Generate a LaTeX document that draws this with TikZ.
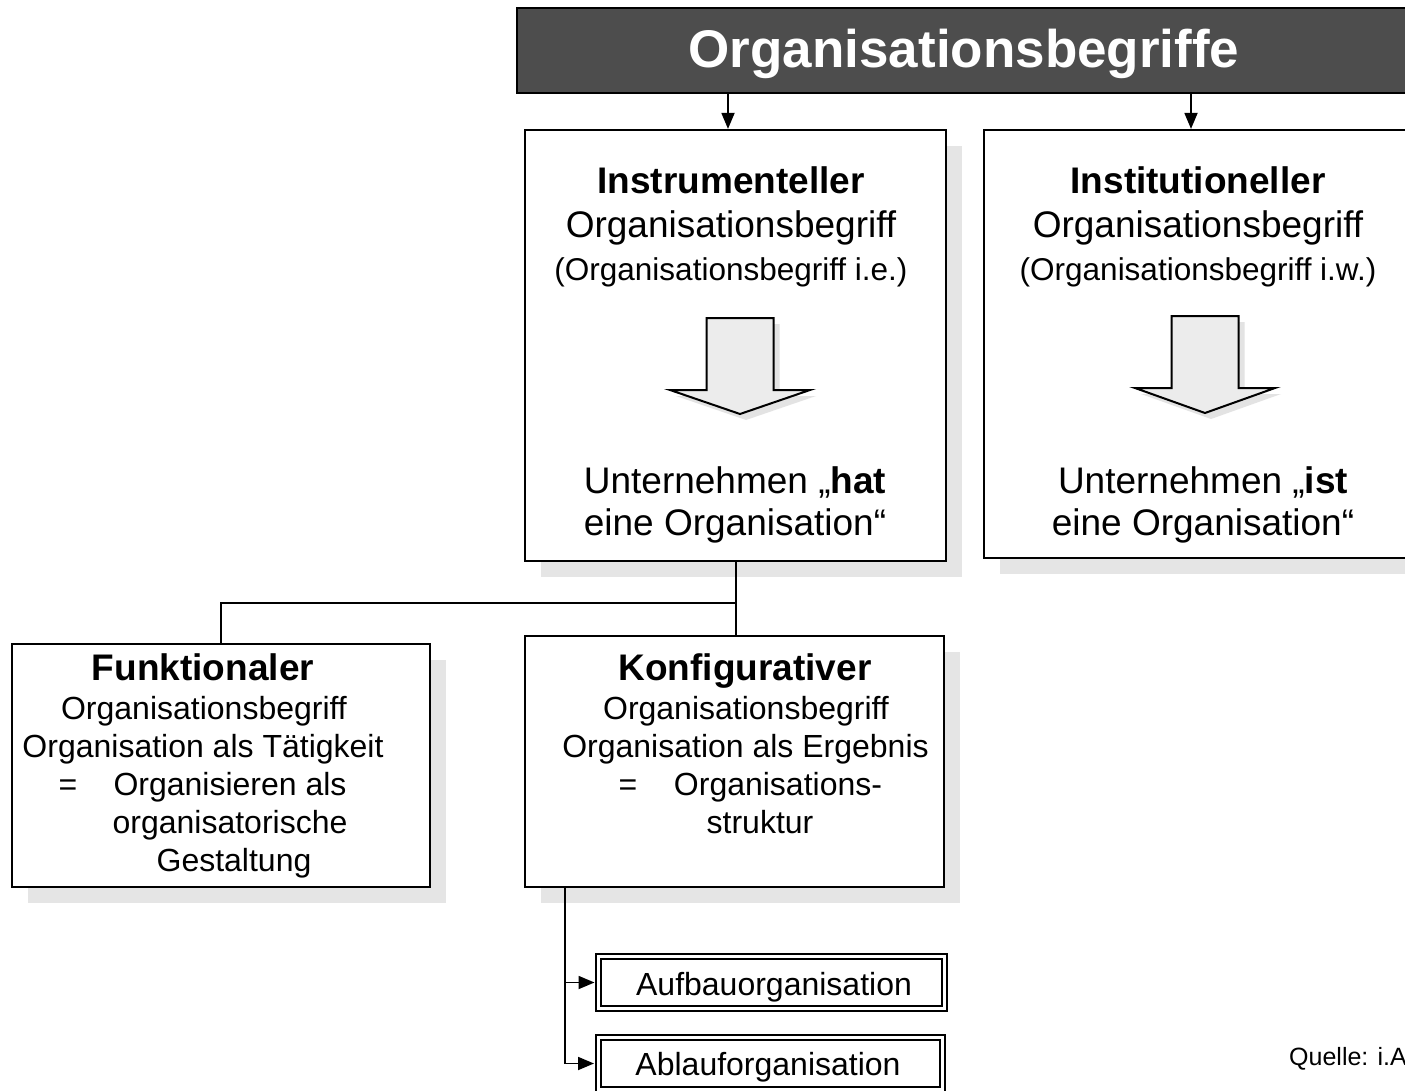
\documentclass[tikz,border=0pt]{standalone}
\usepackage{fontspec}
\setmainfont{Liberation Sans}
\usepackage{tikz}
\usetikzlibrary{arrows.meta,shadows}

\definecolor{barfill}{HTML}{4D4D4D}

\tikzset{
  bar/.style={draw, line width=2pt, fill=barfill, inner sep=0pt},
  box/.style={draw, line width=2.2pt, fill=white, inner sep=0pt,
    drop shadow={shadow xshift=16pt, shadow yshift=-16pt, fill=gray!20, opacity=1}},
  dbox/.style={draw, double, double distance=3pt, line width=2pt, fill=white, inner sep=0pt},
  hollow/.style={draw, line width=2pt, fill=gray!15, line join=miter,
    drop shadow={shadow xshift=6pt, shadow yshift=-6pt, fill=gray!22, opacity=1}},
  txt/.style={inner sep=0pt, anchor=base},
  big/.style={font=\fontsize{37}{44}\selectfont},
  mid/.style={font=\fontsize{31.5}{38}\selectfont},
  small/.style={font=\fontsize{32}{38}\selectfont},
}

\begin{document}
\begin{tikzpicture}[x=1pt,y=-1pt,>={Triangle[length=16pt,width=13pt]}]
    \path[use as bounding box, clip] (0,0) rectangle (1405,1091);

    % title
    \node[bar, minimum width=894pt, minimum height=85pt] (T) at (964,50.5) {};
    \node[txt, text=white, font=\fontsize{53}{60}\selectfont\bfseries] (Tt) at (964,68) {Organisationsbegriffe};

    % instrumenteller
    \node[box, minimum width=421pt, minimum height=431pt] (IB) at (735.5,345.5) {};
    \node[txt, big] (IB1) at (731,194) {\textbf{Instrumenteller}};
    \node[txt, big] (IB2) at (731,238) {Organisationsbegriff};
    \node[txt, mid] (IB3) at (731,280) {(Organisationsbegriff i.e.)};
    \node[txt, big] (IB4) at (735,493) {Unternehmen „\textbf{hat}};
    \node[txt, big] (IB5) at (735,535) {eine Organisation“};

    % institutioneller
    \node[box, minimum width=442pt, minimum height=428pt] (SB) at (1205,344) {};
    \node[txt, big] (SB1) at (1198,194) {\textbf{Institutioneller}};
    \node[txt, big] (SB2) at (1198,238) {Organisationsbegriff};
    \node[txt, mid] (SB3) at (1198,280) {(Organisationsbegriff i.w.)};
    \node[txt, big] (SB4) at (1203,493) {Unternehmen „\textbf{ist}};
    \node[txt, big] (SB5) at (1203,535) {eine Organisation“};

    % hollow arrows
    \foreach \cx/\ty/\tp in {740/318/414, 1205/316/413}
      \draw[hollow] (\cx-33.5,\ty) -- (\cx+33.5,\ty) -- (\cx+33.5,\ty+72) -- (\cx+70,\ty+72)
        -- (\cx,\tp) -- (\cx-70,\ty+72) -- (\cx-33.5,\ty+72) -- cycle;

    % funktionaler
    \node[box, minimum width=418pt, minimum height=243pt] (FB) at (221,765.5) {};
    \node[txt, big] (FB1) at (203,680) {\textbf{Funktionaler}};
    \node[txt, small] (FB2) at (204,719) {Organisationsbegriff};
    \node[txt, small] (FB3) at (203,757) {Organisation als Tätigkeit};
    \node[txt, small] (FB4) at (68,795) {=};
    \node[txt, small] (FB5) at (230,795) {Organisieren als};
    \node[txt, small] (FB6) at (230,833) {organisatorische};
    \node[txt, small] (FB7) at (234,871) {Gestaltung};

    % konfigurativer
    \node[box, minimum width=419pt, minimum height=251pt] (KB) at (734.5,761.5) {};
    \node[txt, big] (KB1) at (745,680) {\textbf{Konfigurativer}};
    \node[txt, small] (KB2) at (746,719) {Organisationsbegriff};
    \node[txt, small] (KB3) at (745.5,757) {Organisation als Ergebnis};
    \node[txt, small] (KB4) at (628,795) {=};
    \node[txt, small] (KB5) at (778,795) {Organisations-};
    \node[txt, small] (KB6) at (760,833) {struktur};

    % aufbau / ablauf
    \node[dbox, minimum width=346pt, minimum height=52pt] (AB1) at (771.5,982.5) {};
    \node[txt, small] (AB1t) at (774,995) {Aufbauorganisation};
    \node[dbox, minimum width=344pt, minimum height=52pt] (AB2) at (770,1063.5) {};
    \node[txt, small] (AB2t) at (768,1075) {Ablauforganisation};

    \node[txt, anchor=base west, font=\fontsize{25}{30}\selectfont] (Q) at (1289,1065) {Quelle: i.A};

    % connectors
    \coordinate (c1) at (728,0);
    \coordinate (c2) at (1191,0);
    \coordinate (j) at (736,603);
    \coordinate (b) at (565,0);
    \path[->, line width=1.8pt]
      (T.south -| c1) edge (IB.north -| c1)
      (T.south -| c2) edge (SB.north -| c2);
    \draw[line width=1.6pt] (IB.south -| j) -- (KB.north -| j);
    \draw[line width=1.6pt] (j) -| (FB.north);
    \draw[->, line width=1.8pt, shorten >=3pt] (KB.south -| b) |- (AB1.west);
    \draw[->, line width=1.8pt, shorten >=3pt] (KB.south -| b) |- (AB2.west);
\end{tikzpicture}
\end{document}
